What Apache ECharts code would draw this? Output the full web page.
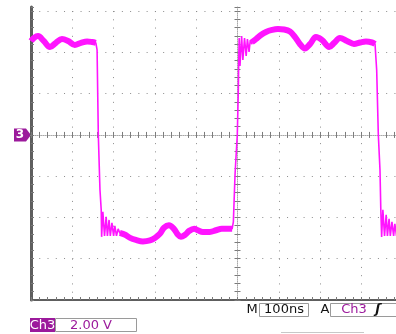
<!DOCTYPE html>
<html>
<head>
<meta charset="utf-8">
<script src="https://cdn.jsdelivr.net/npm/echarts@6/dist/echarts.min.js"></script>
<style>
html, body { margin: 0; padding: 0; background: #fff; }
#scope { width: 396px; height: 334px; }
</style>
</head>
<body>
<div id="scope"></div>
<script>
// scope trace, time in ns (100 ns/div), level in V (2.00 V/div)

var highA = [[-500,4.55],[-493,4.70],[-483,4.79],[-469,4.55],[-454,4.26],[-440,4.46],[-425,4.65],[-410,4.55],[-394,4.36],[-379,4.46],[-364,4.53],[-352,4.50],[-343,4.46]];
var fallA = [[-343,4.46],[-340,4.12],[-337,0],[-333,-2.66],[-330,-3.63],[-329,-4.94],[-326,-3.73],[-322,-4.89],[-318,-3.97],[-315,-4.89],[-311,-4.12],[-308,-4.89],[-304,-4.26],[-300,-4.89],[-297,-4.41],[-293,-4.89],[-289,-4.55],[-285,-4.75]];
var lowB = [[-285,-4.75],[-272,-4.84],[-260,-4.99],[-246,-5.09],[-229,-5.16],[-212,-5.11],[-200,-4.99],[-188,-4.79],[-178,-4.50],[-166,-4.38],[-154,-4.55],[-144,-4.84],[-137,-4.94],[-127,-4.84],[-117,-4.65],[-105,-4.55],[-96,-4.62],[-84,-4.70],[-67,-4.70],[-52,-4.62],[-38,-4.55],[-23,-4.55],[-13,-4.55]];
var riseB = [[-13,-4.55],[-10,-4.21],[-6,-1.94],[-4,-1.21],[-0.5,0],[2,2.18],[3,3.63],[4,4.70],[6,3.34],[10,4.79],[13,3.63],[17,4.70],[21,3.83],[24,4.65],[28,4.02],[31,4.60],[35,4.40]];
var highC = [[35,4.50],[45,4.65],[55,4.82],[69,4.99],[84,5.09],[98,5.13],[113,5.11],[127,5.01],[139,4.75],[151,4.41],[163,4.19],[176,4.41],[190,4.75],[205,4.60],[222,4.26],[234,4.46],[248,4.70],[265,4.55],[282,4.41],[297,4.48],[311,4.53],[326,4.48],[333,4.41]];
var fallC = [[333,4.41],[337,3.15],[341,0],[345,-1.69],[347,-3.63],[349,-4.94],[352,-3.63],[356,-4.89],[360,-3.87],[363,-4.89],[367,-4.07],[370,-4.89],[374,-4.21],[378,-4.89],[381,-4.31],[385,-4.89],[389,-4.41]];

var chName = 'Ch3';
var chMark = '3';
var voltsLabel = '2.00 V';
var timeLabel = '100ns';
var trigSource = 'Ch3';

var tMin = -500, tMax = 500, tDiv = 100;
var vMin = -8, vMax = 6.2, vDiv = 2;

var purple = '#9c1a9c';
var trace = '#ff14ff';
var dotColor = '#8c8c8c';
var frame = '#5e5e5e';

var scope = echarts.init(document.getElementById('scope'), null, {renderer: 'canvas'});

var fullTrace = highA.concat(fallA.slice(1), lowB.slice(1), riseB.slice(1), highC, fallC.slice(1));

function tAxis(o) {
    var a = {type: 'value', min: tMin, max: tMax, interval: tDiv / 5, position: 'bottom',
        axisLabel: {show: false}, splitLine: {show: false}, axisTick: {show: false},
        axisLine: {show: true, onZero: false, lineStyle: {opacity: 0}}};
    return Object.assign(a, o);
}
function vAxis(o) {
    var a = {type: 'value', min: vMin, max: vMax, interval: vDiv / 5, position: 'left',
        axisLabel: {show: false}, splitLine: {show: false}, axisTick: {show: false},
        axisLine: {show: true, onZero: false, lineStyle: {opacity: 0}}};
    return Object.assign(a, o);
}

var tickStyle = {color: '#7a7a7a', width: 1};

option = {
    animation: false,
    grid: {left: 31, top: 7, width: 413, bottom: 34, outerBoundsMode: 'none', containLabel: false},
    xAxis: [
        // graticule columns
        tAxis({interval: tDiv, splitLine: {show: true, showMinLine: false, showMaxLine: false,
            lineStyle: {color: dotColor, width: 1, type: [1, 7.254], dashOffset: 4.2}}}),
        // bottom frame
        tAxis({axisLine: {show: true, onZero: false, lineStyle: {color: frame, width: 2}},
            axisTick: {show: true, inside: true, length: 3, lineStyle: tickStyle}}),
        // centre line, ticks up
        tAxis({axisLine: {show: true, onZero: true, onZeroAxisIndex: 0, lineStyle: {color: '#aaaaaa', width: 1, type: [1, 1]}},
            axisTick: {show: true, inside: true, length: 3, lineStyle: tickStyle}}),
        // centre line, ticks down
        tAxis({axisLine: {show: true, onZero: true, onZeroAxisIndex: 0, lineStyle: {opacity: 0}},
            axisTick: {show: true, inside: false, length: 3, lineStyle: tickStyle}})
    ],
    yAxis: [
        vAxis({interval: vDiv, splitLine: {show: true, showMinLine: false, showMaxLine: false,
            lineStyle: {color: dotColor, width: 1, type: [1, 7.26], dashOffset: 0}}}),
        // left frame
        vAxis({axisLine: {show: true, onZero: false, lineStyle: {color: frame, width: 3}},
            axisTick: {show: true, inside: true, length: 3, lineStyle: tickStyle}}),
        vAxis({axisLine: {show: true, onZero: true, onZeroAxisIndex: 0, lineStyle: {color: '#aaaaaa', width: 1, type: [1, 1]}},
            axisTick: {show: true, inside: true, length: 3, lineStyle: tickStyle}}),
        vAxis({axisLine: {show: true, onZero: true, onZeroAxisIndex: 0, lineStyle: {opacity: 0}},
            axisTick: {show: true, inside: false, length: 3, lineStyle: tickStyle}})
    ],
    series: [
        {name: 'edge', type: 'line', data: fullTrace, showSymbol: false, z: 3,
            lineStyle: {color: trace, width: 1.6}},
        {name: 'highA', type: 'line', data: highA, showSymbol: false, smooth: 0.35, z: 4,
            lineStyle: {color: trace, width: 6}},
        {name: 'lowB', type: 'line', data: lowB, showSymbol: false, smooth: 0.35, z: 4,
            lineStyle: {color: trace, width: 6}},
        {name: 'highC', type: 'line', data: highC, showSymbol: false, smooth: 0.35, z: 4,
            lineStyle: {color: trace, width: 6}}
    ]
};
scope.setOption(option);

// channel ground marker and readouts
var gy = scope.convertToPixel({yAxisIndex: 0}, 0);
var font = 'DejaVu Sans';
scope.setOption({
    graphic: [
        {type: 'polygon', shape: {points: [[14, gy - 6.5], [26, gy - 6.5], [31, gy], [26, gy + 6.5], [14, gy + 6.5]]},
            style: {fill: purple}},
        {type: 'text', x: 20, y: gy, style: {text: chMark, fill: '#fff', font: 'bold 12px ' + font, align: 'center', verticalAlign: 'middle'}},

        {type: 'rect', shape: {x: 30, y: 318, width: 25, height: 14}, style: {fill: purple}},
        {type: 'text', x: 42.5, y: 325.5, style: {text: chName, fill: '#fff', font: '13px ' + font, align: 'center', verticalAlign: 'middle'}},
        {type: 'rect', shape: {x: 55.5, y: 318.5, width: 81, height: 13}, style: {fill: '#fff', stroke: '#9a9a9a', lineWidth: 1}},
        {type: 'text', x: 91, y: 325.5, style: {text: voltsLabel, fill: purple, font: '13px ' + font, align: 'center', verticalAlign: 'middle'}},

        {type: 'text', x: 252, y: 310, style: {text: 'M', fill: '#111', font: '13px ' + font, align: 'center', verticalAlign: 'middle'}},
        {type: 'rect', shape: {x: 259.5, y: 303.5, width: 49, height: 13}, style: {fill: '#fff', stroke: '#9a9a9a', lineWidth: 1}},
        {type: 'text', x: 284, y: 310, style: {text: timeLabel, fill: '#111', font: '13px ' + font, align: 'center', verticalAlign: 'middle'}},
        {type: 'text', x: 325, y: 310, style: {text: 'A', fill: '#111', font: '13px ' + font, align: 'center', verticalAlign: 'middle'}},
        {type: 'rect', shape: {x: 330.5, y: 303.5, width: 80, height: 13}, style: {fill: '#fff', stroke: '#9a9a9a', lineWidth: 1}},
        {type: 'text', x: 354, y: 310, style: {text: trigSource, fill: purple, font: '13px ' + font, align: 'center', verticalAlign: 'middle'}},
        {type: 'text', x: 378, y: 310, style: {text: 'ʃ', fill: '#111', font: 'bold italic 13px ' + font, align: 'center', verticalAlign: 'middle'}},
        {type: 'line', shape: {x1: 281, y1: 332.5, x2: 364, y2: 332.5}, style: {stroke: '#c8c8c8', lineWidth: 1}}
    ]
});
</script>
</body>
</html>
